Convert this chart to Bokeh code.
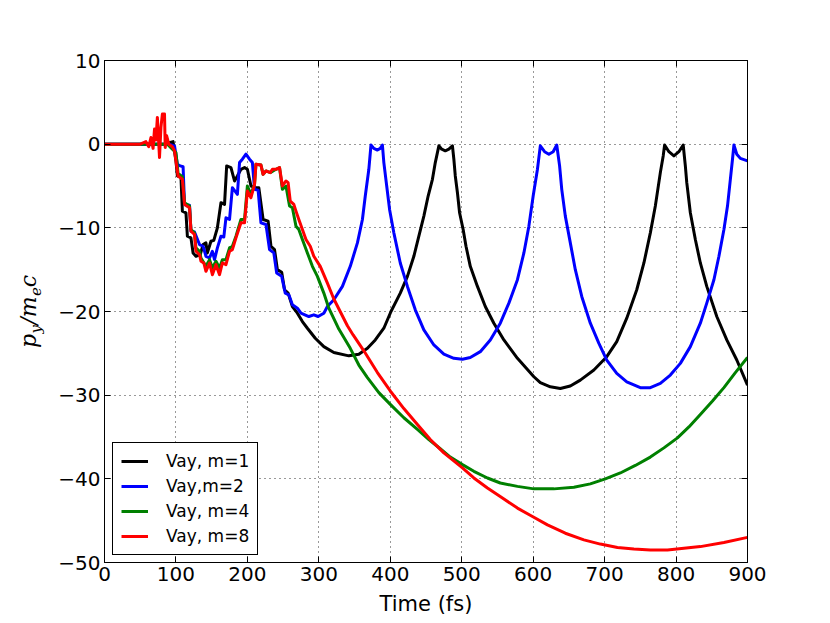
from bokeh.plotting import figure
from bokeh.models import Range1d, LinearAxis, FixedTicker, Legend, LegendItem
from bokeh.embed import file_html
from bokeh.resources import INLINE

# ---------------- data ----------------
t_m1 = [0, 60, 85, 92, 96, 100, 102, 107, 109, 114, 116, 121, 124, 128, 134, 138, 142, 144,
        149, 153, 158, 163, 168, 171, 177, 182, 186, 191, 196, 200, 205, 212, 216, 222, 229,
        233, 238, 242, 248, 252, 257, 263, 270, 277, 284, 295, 307, 321, 342, 356, 368, 379,
        391, 401, 414, 424, 433, 440, 447, 453, 459, 463, 468, 472, 477, 482, 487, 489, 491,
        494, 497, 502, 506, 512, 522, 533, 545, 559, 578, 601, 610, 624, 638, 652, 666, 685,
        703, 717, 731, 745, 755, 764, 771, 778, 782, 784, 790, 797, 804, 810, 813, 815, 820,
        827, 834, 843, 857, 871, 885, 900]
v_m1 = [0, 0, 0, 0.2, 0.3, -2.0, -3.8, -3.9, -8.0, -8.2, -11.0, -11.2, -13.0, -13.4, -13.2,
        -12.0, -11.8, -13.0, -11.6, -11.5, -10.0, -7.0, -7.2, -2.6, -2.8, -4.4, -3.8, -3.0,
        -2.8, -3.0, -5.0, -5.2, -5.2, -9.0, -9.2, -12.2, -12.6, -15.0, -15.3, -17.4, -17.8,
        -19.4, -20.2, -21.2, -22.0, -23.2, -24.2, -24.9, -25.3, -25.1, -24.4, -23.4, -22.0,
        -20.0, -17.8, -15.8, -13.4, -11.0, -8.6, -6.2, -4.2, -2.2, -0.2, -0.6, -0.8, -0.6,
        -0.2, -1.8, -3.8, -5.8, -8.2, -10.2, -12.2, -14.6, -17.0, -19.4, -21.4, -23.4, -25.6,
        -27.8, -28.5, -29.0, -29.2, -28.9, -28.2, -27.0, -25.4, -23.6, -20.8, -17.4, -14.2,
        -10.6, -7.4, -3.4, -1.4, -0.1, -0.9, -1.4, -0.9, -0.1, -2.6, -4.6, -8.2, -11.4, -14.2,
        -17.0, -20.6, -23.4, -25.8, -28.8]

t_m2 = [0, 60, 90, 98, 102, 106, 110, 112, 119, 121, 126, 133, 138, 142, 147, 151, 154, 158,
        163, 167, 170, 175, 179, 186, 189, 193, 198, 203, 207, 210, 215, 219, 226, 231, 237,
        241, 248, 253, 258, 263, 270, 275, 286, 293, 299, 307, 312, 321, 333, 344, 354, 361,
        365, 370, 373, 377, 382, 386, 389, 391, 395, 399, 405, 414, 424, 435, 447, 461, 475,
        489, 501, 512, 526, 540, 554, 566, 578, 587, 594, 600, 606, 610, 616, 622, 628, 633,
        637, 640, 645, 652, 659, 668, 680, 692, 703, 717, 731, 750, 764, 778, 792, 806, 820,
        834, 843, 853, 860, 867, 872, 876, 879, 881, 885, 890, 900]
v_m2 = [0, 0, 0, -0.2, -2.4, -2.6, -2.7, -7.2, -7.3, -10.4, -10.5, -12.0, -12.2, -13.4, -13.6,
        -12.8, -13.8, -12.4, -11.0, -11.1, -8.8, -9.0, -5.2, -6.0, -2.2, -1.8, -1.2, -1.8,
        -2.2, -5.4, -5.5, -9.4, -9.6, -12.6, -13.0, -15.4, -15.8, -17.8, -18.0, -19.2, -19.6,
        -20.2, -20.6, -20.4, -20.6, -20.2, -19.4, -18.6, -17.0, -14.6, -11.8, -9.0, -6.2,
        -3.0, -0.1, -0.5, -0.7, -0.5, -0.1, -2.2, -5.0, -7.8, -10.6, -14.2, -17.0, -19.8,
        -22.2, -24.0, -25.1, -25.6, -25.7, -25.5, -24.8, -23.4, -21.4, -19.0, -16.2, -13.0,
        -9.8, -6.2, -3.0, -0.2, -0.9, -1.2, -0.9, -0.1, -2.6, -5.4, -8.6, -11.8, -15.0, -18.2,
        -21.4, -23.8, -25.8, -27.4, -28.4, -29.1, -29.1, -28.6, -27.6, -26.2, -24.2, -21.4,
        -19.0, -16.2, -13.4, -10.2, -7.4, -4.2, -1.8, -0.1, -1.2, -1.7, -2.0]

t_m4 = [0, 88, 95, 100, 103, 109, 112, 119, 121, 126, 128, 133, 135, 142, 147, 151, 156, 161,
        165, 170, 175, 179, 184, 191, 196, 200, 205, 210, 212, 219, 222, 226, 232, 240, 245,
        249, 254, 259, 263, 268, 272, 277, 284, 291, 298, 307, 314, 328, 344, 356, 368, 384,
        400, 419, 438, 454, 470, 484, 501, 517, 536, 554, 578, 601, 629, 657, 680, 701, 722,
        743, 764, 783, 802, 818, 834, 851, 867, 883, 900]
v_m4 = [0, 0, -0.6, -1.0, -3.5, -3.9, -7.0, -7.4, -10.2, -10.6, -12.4, -12.8, -13.6, -14.6,
        -13.8, -14.8, -14.0, -14.8, -13.8, -13.8, -12.4, -12.2, -11.0, -9.0, -9.0, -5.0, -6.0,
        -4.8, -2.4, -2.5, -3.6, -3.2, -3.4, -3.0, -2.8, -5.4, -5.0, -7.4, -7.6, -9.8, -10.2,
        -11.4, -13.0, -14.6, -15.8, -17.8, -19.6, -22.1, -24.4, -26.4, -27.9, -29.7, -31.1,
        -32.7, -34.1, -35.3, -36.4, -37.4, -38.3, -39.1, -39.9, -40.5, -40.9, -41.2, -41.2,
        -41.0, -40.6, -40.0, -39.3, -38.4, -37.4, -36.3, -35.1, -33.8, -32.3, -30.7, -29.1,
        -27.3, -25.5]

t_m8 = [0, 50, 58, 62, 65, 68, 70, 72, 74, 77, 79, 81, 84, 85, 87, 90, 95, 98, 103, 109, 112,
        119, 121, 126, 128, 133, 135, 139, 142, 147, 151, 156, 161, 165, 170, 175, 179, 184,
        191, 196, 200, 205, 210, 212, 219, 222, 226, 232, 235, 240, 245, 249, 254, 257, 260,
        265, 268, 272, 277, 282, 288, 293, 302, 312, 321, 340, 348, 363, 382, 400, 419, 438,
        456, 475, 501, 517, 536, 557, 578, 599, 620, 645, 671, 694, 718, 741, 764, 788, 811,
        834, 867, 900]
v_m8 = [0, 0, 0.3, -0.3, 0.8, -0.5, 1.8, 0.5, 3.2, -1.6, 2.0, 3.6, 3.6, -0.4, 1.0, 0.0, -0.3,
        -0.8, -3.8, -4.2, -7.2, -7.6, -10.4, -10.8, -12.8, -13.2, -14.0, -14.2, -15.2, -14.2,
        -15.6, -14.4, -15.6, -14.2, -14.4, -12.8, -12.6, -11.2, -9.4, -9.4, -5.6, -6.4, -4.8,
        -2.4, -2.5, -3.6, -3.2, -3.4, -3.0, -3.0, -2.8, -5.0, -4.4, -4.6, -6.8, -7.2, -8.0,
        -9.0, -10.2, -11.4, -12.2, -13.4, -14.6, -16.6, -18.5, -21.7, -22.8, -24.7, -27.3,
        -29.5, -31.6, -33.5, -35.3, -36.9, -38.7, -39.9, -41.1, -42.3, -43.5, -44.5, -45.5,
        -46.5, -47.3, -47.8, -48.2, -48.4, -48.5, -48.5, -48.3, -48.1, -47.6, -47.0]

series_labels = ["Vay, m=1", "Vay,m=2", "Vay, m=4", "Vay, m=8"]
series_colors = ["#000000", "#0000ff", "#008000", "#ff0000"]

x_ticks = [0, 100, 200, 300, 400, 500, 600, 700, 800, 900]
x_tick_labels = ["0", "100", "200", "300", "400", "500", "600", "700", "800", "900"]
y_ticks = [10, 0, -10, -20, -30, -40, -50]
y_tick_labels = ["10", "0", "\u221210", "\u221220", "\u221230", "\u221240", "\u221250"]
x_label = "Time (fs)"

# y label  p_y / m_e c  written as a main line and a subscript line,
# the gaps are filled with fixed-width unicode spaces so that both lines line up
SP_EM, SP_EN, SP_3EM, SP_4EM, SP_6EM, SP_HAIR = "\u2003", "\u2002", "\u2004", "\u2005", "\u2006", "\u200a"
y_label_main = "p" + SP_4EM + SP_6EM + "/m" + SP_4EM + SP_6EM + "c"
y_label_sub = SP_EM + "y" + SP_EM + SP_EN + SP_3EM + SP_HAIR + "e" + SP_EN + SP_4EM + SP_HAIR

X0, X1 = 0, 900
Y0, Y1 = -50, 10
FW, FH = 643, 502

# ---------------- figure ----------------
p = figure(frame_width=FW, frame_height=FH,
           x_range=Range1d(X0, X1), y_range=Range1d(Y0, Y1),
           output_backend="svg", toolbar_location=None,
           min_border_left=104, min_border_right=60, min_border_top=60,
           min_border_bottom=52)
p.background_fill_color = "white"
p.border_fill_color = "white"
p.outline_line_color = "black"
p.outline_line_width = 1
p.outline_line_alpha = 1

FONT = "DejaVu Sans"
SERIF = "DejaVu Serif"

def style_axis(ax, ticks, overrides, show_labels=True):
    ax.ticker = FixedTicker(ticks=ticks)
    ax.minor_tick_line_color = None
    ax.major_tick_in = 6
    ax.major_tick_out = 0
    ax.major_tick_line_color = "black"
    ax.axis_line_color = "black"
    ax.major_label_text_font = FONT
    ax.major_label_standoff = 4
    ax.major_label_text_font_size = "20px"
    if show_labels:
        ax.major_label_overrides = overrides
        ax.major_label_text_color = "black"
    else:
        ax.major_label_text_color = None

xo = {float(v): s for v, s in zip(x_ticks, x_tick_labels)}
yo = {float(v): s for v, s in zip(y_ticks, y_tick_labels)}

style_axis(p.xaxis[0], x_ticks, xo)
style_axis(p.yaxis[0], y_ticks, yo)
p.xaxis[0].axis_label = x_label
p.xaxis[0].axis_label_text_font = FONT
p.xaxis[0].axis_label_text_font_size = "21px"
p.xaxis[0].axis_label_text_font_style = "normal"
p.xaxis[0].axis_label_text_color = "black"
p.xaxis[0].axis_label_standoff = 8

# subscript line on the main y axis
ya = p.yaxis[0]
ya.axis_label = y_label_sub
ya.axis_label_text_font = SERIF
ya.axis_label_text_font_size = "15px"
ya.axis_label_text_font_style = "italic"
ya.axis_label_text_color = "black"
ya.axis_label_standoff = 10

top_ax = LinearAxis()
style_axis(top_ax, x_ticks, xo, show_labels=False)
p.add_layout(top_ax, "above")
right_ax = LinearAxis()
style_axis(right_ax, y_ticks, yo, show_labels=False)
p.add_layout(right_ax, "right")

# main line of the y label on a bare extra axis, pulled in over the subscript line
lab_ax = LinearAxis(ticker=FixedTicker(ticks=[]))
lab_ax.axis_line_color = None
lab_ax.major_tick_line_color = None
lab_ax.minor_tick_line_color = None
lab_ax.major_label_text_color = None
lab_ax.axis_label = y_label_main
lab_ax.axis_label_text_font = SERIF
lab_ax.axis_label_text_font_size = "22px"
lab_ax.axis_label_text_font_style = "italic"
lab_ax.axis_label_text_color = "black"
lab_ax.axis_label_standoff = -16
p.add_layout(lab_ax, "left")

for g in (p.xgrid[0], p.ygrid[0]):
    g.grid_line_color = "black"
    g.grid_line_dash = "1 4"
    g.grid_line_width = 1
    g.grid_line_alpha = 0.8
p.xgrid[0].ticker = FixedTicker(ticks=x_ticks)
p.ygrid[0].ticker = FixedTicker(ticks=y_ticks)

renderers = []
for tt, vv, c in zip([t_m1, t_m2, t_m4, t_m8], [v_m1, v_m2, v_m4, v_m8], series_colors):
    r = p.line(tt, vv, line_color=c, line_width=3, line_join="round")
    renderers.append(r)

legend = Legend(items=[LegendItem(label=l, renderers=[r]) for l, r in zip(series_labels, renderers)],
                location=(8, 7))
legend.label_text_font = FONT
legend.label_text_font_size = "17px"
legend.label_text_color = "black"
legend.border_line_color = "black"
legend.border_line_width = 1
legend.border_line_alpha = 1
legend.background_fill_color = "white"
legend.background_fill_alpha = 1
legend.padding = 8
legend.spacing = 5
legend.glyph_width = 27
legend.glyph_height = 20
legend.label_height = 20
legend.label_standoff = 18
legend.margin = 0
p.add_layout(legend)

open("out.html", "w").write(file_html(p, INLINE))
